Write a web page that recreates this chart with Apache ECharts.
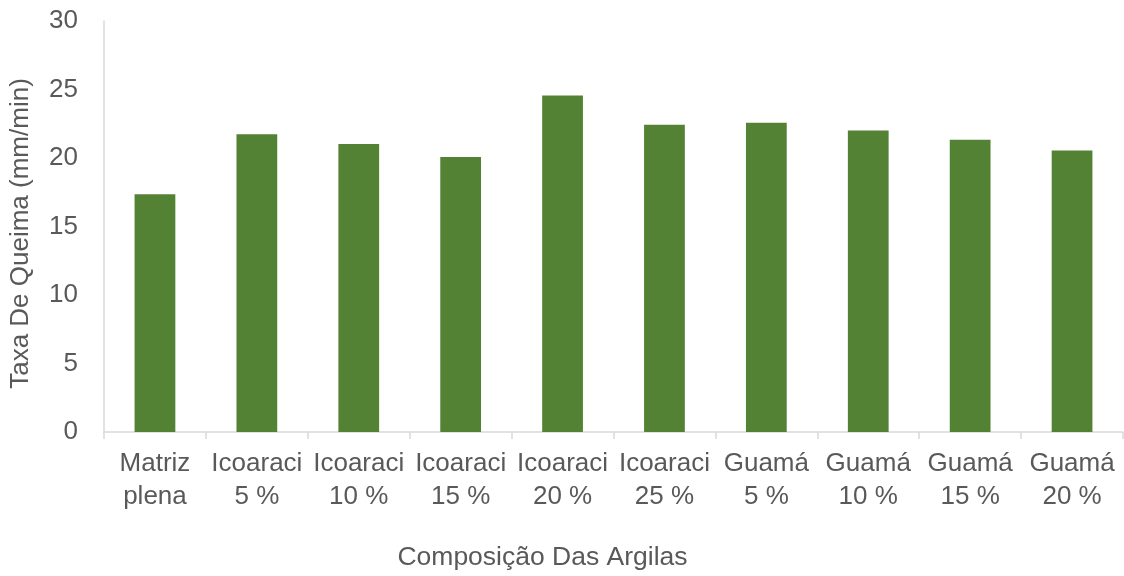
<!DOCTYPE html>
<html>
<head>
<meta charset="utf-8">
<script src="https://cdn.jsdelivr.net/npm/echarts@6/dist/echarts.min.js"></script>
<style>
  html, body { margin: 0; padding: 0; background: #fff; }
  #chart { width: 1124px; height: 576px; }
</style>
</head>
<body>
<div id="chart"></div>
<script>
// Taxa de queima por composição de argila
const categories = [
  'Matriz\nplena', 'Icoaraci\n5 %', 'Icoaraci\n10 %', 'Icoaraci\n15 %', 'Icoaraci\n20 %',
  'Icoaraci\n25 %', 'Guamá\n5 %', 'Guamá\n10 %', 'Guamá\n15 %', 'Guamá\n20 %'
];
const burnRate = [17.36, 21.74, 21.02, 20.08, 24.57, 22.43, 22.57, 22.0, 21.33, 20.55];
const yTicks = { min: 0, max: 30, interval: 5 };

const textColor = '#595959';
const lineColor = '#d9d9d9';
const font = 'Liberation Sans, Arial, sans-serif';

const chart = echarts.init(document.getElementById('chart'));
chart.setOption({
  animation: false,
  grid: { left: 103, right: 1, top: 21, bottom: 138, containLabel: false },
  xAxis: {
    type: 'category',
    data: categories,
    name: 'Composição Das Argilas',
    nameLocation: 'middle',
    nameGap: 112,
    nameTextStyle: { color: textColor, fontSize: 26.5, fontFamily: font, padding: [0, 142, 0, 0] },
    axisLine: { lineStyle: { color: lineColor, width: 1.5 } },
    axisTick: { show: true, length: 7, lineStyle: { color: lineColor, width: 1.5 } },
    axisLabel: { color: textColor, fontSize: 26, fontFamily: font, lineHeight: 33, margin: 15, interval: 0 }
  },
  yAxis: {
    type: 'value',
    min: yTicks.min,
    max: yTicks.max,
    interval: yTicks.interval,
    name: 'Taxa De Queima (mm/min)',
    nameLocation: 'middle',
    nameGap: 70,
    nameTextStyle: { color: textColor, fontSize: 26, fontFamily: font, padding: [0, 14, 0, 0] },
    axisLine: { show: true, lineStyle: { color: lineColor, width: 1.5 } },
    axisTick: { show: false },
    splitLine: { show: false },
    axisLabel: { color: textColor, fontSize: 26, fontFamily: font, margin: 26 }
  },
  series: [{
    type: 'bar',
    data: burnRate,
    barCategoryGap: '60%',
    itemStyle: { color: '#548235' }
  }]
});
</script>
</body>
</html>
